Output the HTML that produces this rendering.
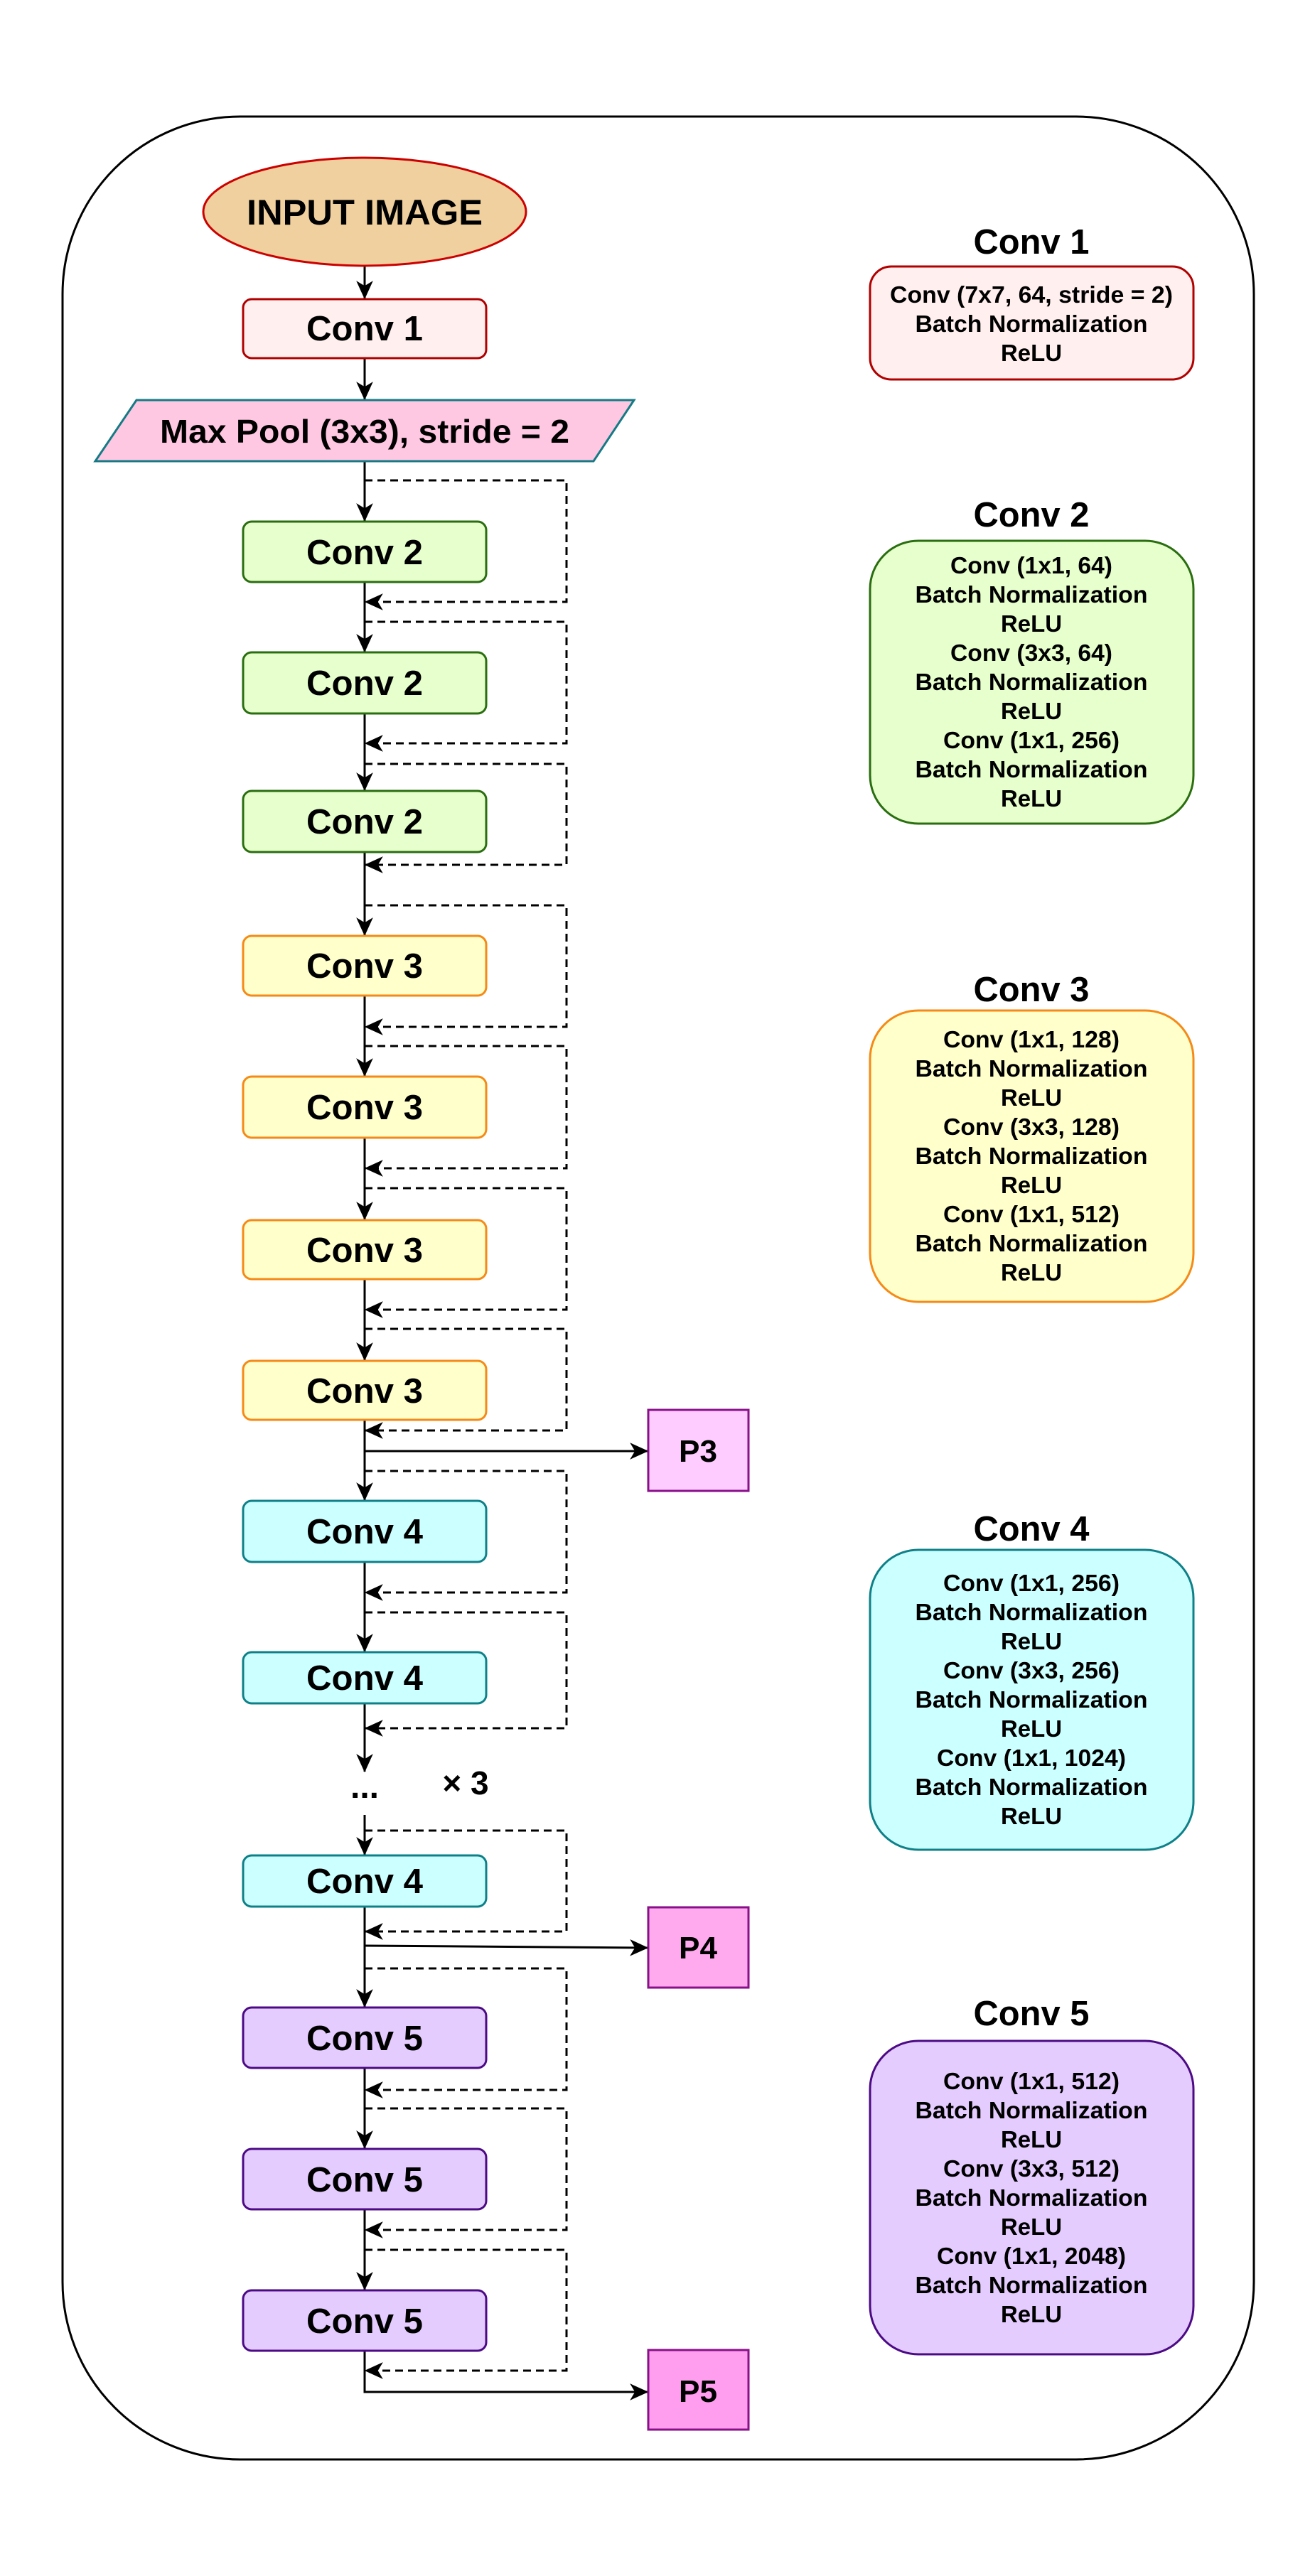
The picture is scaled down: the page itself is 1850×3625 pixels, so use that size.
<!DOCTYPE html>
<html><head><meta charset="utf-8"><style>
html,body{margin:0;padding:0;background:#fff}
svg{display:block}
text{font-family:"Liberation Sans",Arial,sans-serif;font-weight:bold;fill:#000}
</style></head><body>
<svg width="1850" height="3625" viewBox="0 0 1850 3625" xmlns="http://www.w3.org/2000/svg">
<defs>
<marker id="a" viewBox="0 0 22 22" refX="21" refY="11" markerWidth="26" markerHeight="26" markerUnits="userSpaceOnUse" orient="auto">
<path d="M0,1 L22,11 L0,21 L6,11 z" fill="#000"/>
</marker>
</defs>
<rect x="88" y="164" width="1676" height="3297" rx="250" ry="250" fill="#fff" stroke="#000" stroke-width="3"/>

<g stroke="#000" stroke-width="3" fill="none" marker-end="url(#a)">
<line x1="513" y1="374" x2="513" y2="420"/>
<line x1="513" y1="504" x2="513" y2="562"/>
<line x1="513" y1="649" x2="513" y2="733"/>
<line x1="513" y1="819" x2="513" y2="917"/>
<line x1="513" y1="1004" x2="513" y2="1112"/>
<line x1="513" y1="1199" x2="513" y2="1316"/>
<line x1="513" y1="1401" x2="513" y2="1514"/>
<line x1="513" y1="1601" x2="513" y2="1716"/>
<line x1="513" y1="1800" x2="513" y2="1914"/>
<line x1="513" y1="1998" x2="513" y2="2111"/>
<line x1="513" y1="2198" x2="513" y2="2324"/>
<line x1="513" y1="2397" x2="513" y2="2493"/>
<line x1="513" y1="2554" x2="513" y2="2610"/>
<line x1="513" y1="2683" x2="513" y2="2824"/>
<line x1="513" y1="2910" x2="513" y2="3023"/>
<line x1="513" y1="3109" x2="513" y2="3222"/>
<line x1="513" y1="2042" x2="911" y2="2042"/>
<line x1="513" y1="2738" x2="911" y2="2741"/>
<polyline points="513,3308 513,3366 911,3366"/>
</g>

<g stroke="#000" stroke-width="3" fill="none" stroke-dasharray="11 7" marker-end="url(#a)">
<polyline points="513,676 797,676 797,847 514,847"/>
<polyline points="513,875 797,875 797,1046 514,1046"/>
<polyline points="513,1075 797,1075 797,1217 514,1217"/>
<polyline points="513,1274 797,1274 797,1445 514,1445"/>
<polyline points="513,1472 797,1472 797,1644 514,1644"/>
<polyline points="513,1672 797,1672 797,1843 514,1843"/>
<polyline points="513,1870 797,1870 797,2013 514,2013"/>
<polyline points="513,2070 797,2070 797,2241 514,2241"/>
<polyline points="513,2269 797,2269 797,2432 514,2432"/>
<polyline points="513,2576 797,2576 797,2718 514,2718"/>
<polyline points="513,2770 797,2770 797,2941 514,2941"/>
<polyline points="513,2967 797,2967 797,3138 514,3138"/>
<polyline points="513,3166 797,3166 797,3336 514,3336"/>
</g>

<ellipse cx="513" cy="298" rx="227" ry="76" fill="#f0d09e" stroke="#cc0000" stroke-width="3"/>
<text x="513" y="316" font-size="50" text-anchor="middle" textLength="332" lengthAdjust="spacingAndGlyphs">INPUT IMAGE</text>

<rect x="342" y="421" width="342" height="83" rx="12" fill="#fff0ef" stroke="#b00000" stroke-width="3"/>
<text x="513" y="479" font-size="49" text-anchor="middle" textLength="164" lengthAdjust="spacingAndGlyphs">Conv 1</text>

<polygon points="192,563 892,563 835,649 134,649" fill="#ffc8e2" stroke="#157a85" stroke-width="3"/>
<text x="513" y="623" font-size="46" text-anchor="middle" textLength="576" lengthAdjust="spacingAndGlyphs">Max Pool (3x3), stride = 2</text>

<g fill="#e6ffcc" stroke="#2a6e10" stroke-width="3">
<rect x="342" y="734" width="342" height="85" rx="12"/>
<rect x="342" y="918" width="342" height="86" rx="12"/>
<rect x="342" y="1113" width="342" height="86" rx="12"/>
</g>
<g font-size="49" text-anchor="middle">
<text x="513" y="794" textLength="164" lengthAdjust="spacingAndGlyphs">Conv 2</text>
<text x="513" y="978" textLength="164" lengthAdjust="spacingAndGlyphs">Conv 2</text>
<text x="513" y="1173" textLength="164" lengthAdjust="spacingAndGlyphs">Conv 2</text>
</g>

<g fill="#ffffcc" stroke="#f58a16" stroke-width="3">
<rect x="342" y="1317" width="342" height="84" rx="12"/>
<rect x="342" y="1515" width="342" height="86" rx="12"/>
<rect x="342" y="1717" width="342" height="83" rx="12"/>
<rect x="342" y="1915" width="342" height="83" rx="12"/>
</g>
<g font-size="49" text-anchor="middle">
<text x="513" y="1376" textLength="164" lengthAdjust="spacingAndGlyphs">Conv 3</text>
<text x="513" y="1575" textLength="164" lengthAdjust="spacingAndGlyphs">Conv 3</text>
<text x="513" y="1776" textLength="164" lengthAdjust="spacingAndGlyphs">Conv 3</text>
<text x="513" y="1974" textLength="164" lengthAdjust="spacingAndGlyphs">Conv 3</text>
</g>

<g fill="#ccffff" stroke="#0e8088" stroke-width="3">
<rect x="342" y="2112" width="342" height="86" rx="12"/>
<rect x="342" y="2325" width="342" height="72" rx="12"/>
<rect x="342" y="2611" width="342" height="72" rx="12"/>
</g>
<g font-size="49" text-anchor="middle">
<text x="513" y="2172" textLength="164" lengthAdjust="spacingAndGlyphs">Conv 4</text>
<text x="513" y="2378" textLength="164" lengthAdjust="spacingAndGlyphs">Conv 4</text>
<text x="513" y="2664" textLength="164" lengthAdjust="spacingAndGlyphs">Conv 4</text>
</g>
<text x="513" y="2530" font-size="48" text-anchor="middle">...</text>
<text x="655" y="2525" font-size="46" text-anchor="middle">× 3</text>

<g fill="#e5ccff" stroke="#4c0a85" stroke-width="3">
<rect x="342" y="2825" width="342" height="85" rx="12"/>
<rect x="342" y="3024" width="342" height="85" rx="12"/>
<rect x="342" y="3223" width="342" height="85" rx="12"/>
</g>
<g font-size="49" text-anchor="middle">
<text x="513" y="2885" textLength="164" lengthAdjust="spacingAndGlyphs">Conv 5</text>
<text x="513" y="3084" textLength="164" lengthAdjust="spacingAndGlyphs">Conv 5</text>
<text x="513" y="3283" textLength="164" lengthAdjust="spacingAndGlyphs">Conv 5</text>
</g>

<rect x="912" y="1984" width="141" height="114" fill="#ffccff" stroke="#8a108a" stroke-width="3"/>
<rect x="912" y="2684" width="141" height="113" fill="#ffaaee" stroke="#8a108a" stroke-width="3"/>
<rect x="912" y="3307" width="141" height="112" fill="#ff9eee" stroke="#8a108a" stroke-width="3"/>
<g font-size="44" text-anchor="middle">
<text x="982" y="2057" textLength="54" lengthAdjust="spacingAndGlyphs">P3</text>
<text x="982" y="2756" textLength="54" lengthAdjust="spacingAndGlyphs">P4</text>
<text x="982" y="3380" textLength="54" lengthAdjust="spacingAndGlyphs">P5</text>
</g>

<g font-size="49" text-anchor="middle">
<text x="1451" y="357" textLength="163" lengthAdjust="spacingAndGlyphs">Conv 1</text>
<text x="1451" y="741" textLength="163" lengthAdjust="spacingAndGlyphs">Conv 2</text>
<text x="1451" y="1409" textLength="163" lengthAdjust="spacingAndGlyphs">Conv 3</text>
<text x="1451" y="2168" textLength="163" lengthAdjust="spacingAndGlyphs">Conv 4</text>
<text x="1451" y="2850" textLength="163" lengthAdjust="spacingAndGlyphs">Conv 5</text>
</g>

<rect x="1224" y="375" width="455" height="159" rx="30" fill="#fff0ef" stroke="#b00000" stroke-width="3"/>
<rect x="1224" y="761" width="455" height="398" rx="68" fill="#e6ffcc" stroke="#2a6e10" stroke-width="3"/>
<rect x="1224" y="1422" width="455" height="410" rx="68" fill="#ffffcc" stroke="#f58a16" stroke-width="3"/>
<rect x="1224" y="2181" width="455" height="422" rx="68" fill="#ccffff" stroke="#0e8088" stroke-width="3"/>
<rect x="1224" y="2872" width="455" height="441" rx="68" fill="#e5ccff" stroke="#4c0a85" stroke-width="3"/>

<g font-size="33" text-anchor="middle">
<text x="1451" y="426" textLength="398" lengthAdjust="spacingAndGlyphs">Conv (7x7, 64, stride = 2)</text>
<text x="1451" y="467" textLength="327" lengthAdjust="spacingAndGlyphs">Batch Normalization</text>
<text x="1451" y="508" textLength="86" lengthAdjust="spacingAndGlyphs">ReLU</text>

<text x="1451" y="807" textLength="228" lengthAdjust="spacingAndGlyphs">Conv (1x1, 64)</text>
<text x="1451" y="848" textLength="327" lengthAdjust="spacingAndGlyphs">Batch Normalization</text>
<text x="1451" y="889" textLength="86" lengthAdjust="spacingAndGlyphs">ReLU</text>
<text x="1451" y="930" textLength="228" lengthAdjust="spacingAndGlyphs">Conv (3x3, 64)</text>
<text x="1451" y="971" textLength="327" lengthAdjust="spacingAndGlyphs">Batch Normalization</text>
<text x="1451" y="1012" textLength="86" lengthAdjust="spacingAndGlyphs">ReLU</text>
<text x="1451" y="1053" textLength="248" lengthAdjust="spacingAndGlyphs">Conv (1x1, 256)</text>
<text x="1451" y="1094" textLength="327" lengthAdjust="spacingAndGlyphs">Batch Normalization</text>
<text x="1451" y="1135" textLength="86" lengthAdjust="spacingAndGlyphs">ReLU</text>

<text x="1451" y="1474" textLength="248" lengthAdjust="spacingAndGlyphs">Conv (1x1, 128)</text>
<text x="1451" y="1515" textLength="327" lengthAdjust="spacingAndGlyphs">Batch Normalization</text>
<text x="1451" y="1556" textLength="86" lengthAdjust="spacingAndGlyphs">ReLU</text>
<text x="1451" y="1597" textLength="248" lengthAdjust="spacingAndGlyphs">Conv (3x3, 128)</text>
<text x="1451" y="1638" textLength="327" lengthAdjust="spacingAndGlyphs">Batch Normalization</text>
<text x="1451" y="1679" textLength="86" lengthAdjust="spacingAndGlyphs">ReLU</text>
<text x="1451" y="1720" textLength="248" lengthAdjust="spacingAndGlyphs">Conv (1x1, 512)</text>
<text x="1451" y="1761" textLength="327" lengthAdjust="spacingAndGlyphs">Batch Normalization</text>
<text x="1451" y="1802" textLength="86" lengthAdjust="spacingAndGlyphs">ReLU</text>

<text x="1451" y="2239" textLength="248" lengthAdjust="spacingAndGlyphs">Conv (1x1, 256)</text>
<text x="1451" y="2280" textLength="327" lengthAdjust="spacingAndGlyphs">Batch Normalization</text>
<text x="1451" y="2321" textLength="86" lengthAdjust="spacingAndGlyphs">ReLU</text>
<text x="1451" y="2362" textLength="248" lengthAdjust="spacingAndGlyphs">Conv (3x3, 256)</text>
<text x="1451" y="2403" textLength="327" lengthAdjust="spacingAndGlyphs">Batch Normalization</text>
<text x="1451" y="2444" textLength="86" lengthAdjust="spacingAndGlyphs">ReLU</text>
<text x="1451" y="2485" textLength="266" lengthAdjust="spacingAndGlyphs">Conv (1x1, 1024)</text>
<text x="1451" y="2526" textLength="327" lengthAdjust="spacingAndGlyphs">Batch Normalization</text>
<text x="1451" y="2567" textLength="86" lengthAdjust="spacingAndGlyphs">ReLU</text>

<text x="1451" y="2940" textLength="248" lengthAdjust="spacingAndGlyphs">Conv (1x1, 512)</text>
<text x="1451" y="2981" textLength="327" lengthAdjust="spacingAndGlyphs">Batch Normalization</text>
<text x="1451" y="3022" textLength="86" lengthAdjust="spacingAndGlyphs">ReLU</text>
<text x="1451" y="3063" textLength="248" lengthAdjust="spacingAndGlyphs">Conv (3x3, 512)</text>
<text x="1451" y="3104" textLength="327" lengthAdjust="spacingAndGlyphs">Batch Normalization</text>
<text x="1451" y="3145" textLength="86" lengthAdjust="spacingAndGlyphs">ReLU</text>
<text x="1451" y="3186" textLength="266" lengthAdjust="spacingAndGlyphs">Conv (1x1, 2048)</text>
<text x="1451" y="3227" textLength="327" lengthAdjust="spacingAndGlyphs">Batch Normalization</text>
<text x="1451" y="3268" textLength="86" lengthAdjust="spacingAndGlyphs">ReLU</text>
</g>
</svg>
</body></html>
